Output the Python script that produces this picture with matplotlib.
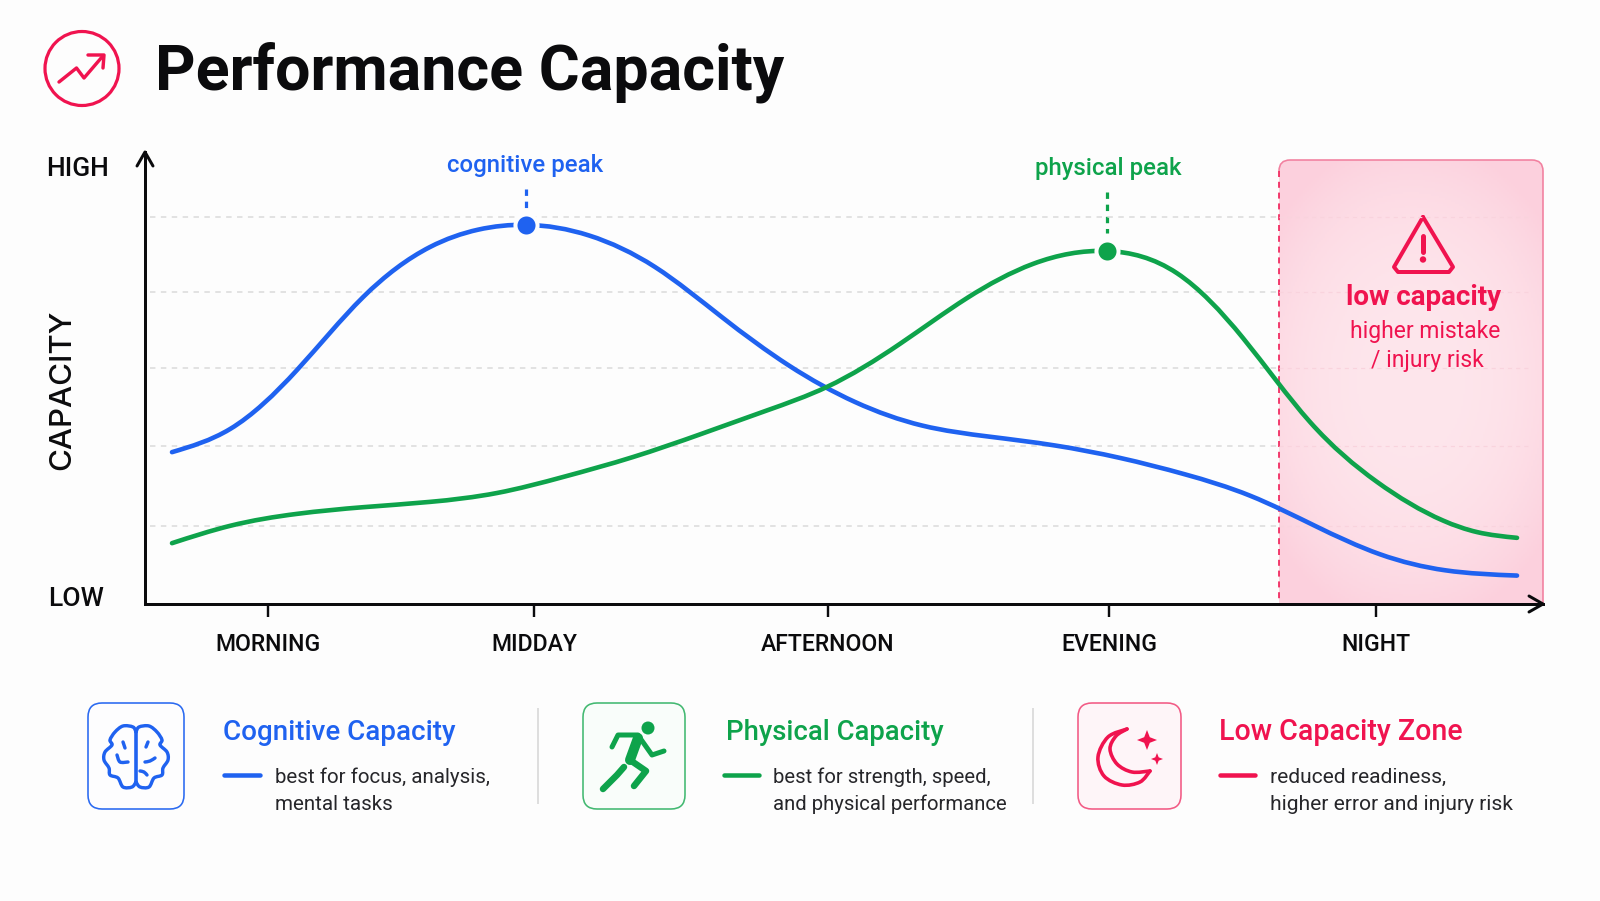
import numpy as np
import matplotlib
matplotlib.use('Agg')
import matplotlib.pyplot as plt
from matplotlib.path import Path
from matplotlib.patches import PathPatch, FancyBboxPatch, Circle, Polygon

# time position along the day, capacity in percent of the scale
time_cog = [27, 85, 152, 218, 285, 333, 381, 444, 510, 577, 644, 710, 777, 844, 910, 975, 1040, 1105, 1170, 1235, 1300, 1372]
cognitive = [34.2, 39.4, 52.7, 69.1, 80.4, 84.3, 85.4, 83.0, 75.9, 64.6, 53.7, 45.5, 40.2, 37.7, 35.7, 32.9, 29.2, 24.4, 17.6, 11.2, 7.6, 6.4]

time_phy = [27, 85, 152, 218, 285, 352, 418, 488, 555, 622, 682, 755, 822, 888, 962, 1032, 1098, 1165, 1232, 1298, 1332, 1372]
physical = [13.7, 17.6, 20.3, 21.8, 23.0, 25.0, 28.6, 33.1, 38.2, 43.6, 48.9, 58.6, 68.9, 76.6, 79.5, 74.5, 59.9, 41.0, 27.5, 18.8, 16.2, 14.9]

tick_pos = [123, 389, 683, 964, 1231]
tick_labels = ['MORNING', 'MIDDAY', 'AFTERNOON', 'EVENING', 'NIGHT']
grid_levels = [87.2, 70.3, 53.1, 35.6, 17.6]
low_start = 1134

BLUE = '#1f62f0'
GREEN = '#0ea34b'
RED = '#f0134f'
BG = '#fdfdfd'
INK = '#0b0b0d'
BODY = '#26262a'
FONT = 'Roboto'

plt.rcParams['font.family'] = [FONT, 'DejaVu Sans']


def smooth_path(xs, ys):
    # Catmull-Rom through the points, written as cubic beziers (icon outlines)
    pts = np.column_stack([xs, ys]).astype(float)
    n = len(pts)
    verts = [pts[0]]
    codes = [Path.MOVETO]
    for i in range(n - 1):
        p0, p1, p2, p3 = pts[max(i - 1, 0)], pts[i], pts[i + 1], pts[min(i + 2, n - 1)]
        verts += [p1 + (p2 - p0) / 6, p2 - (p3 - p1) / 6, p2]
        codes += [Path.CURVE4] * 3
    return Path(verts, codes)


def spline_path(xs, ys):
    # natural cubic spline through the series, one bezier per interval
    x = np.asarray(xs, float)
    y = np.asarray(ys, float)
    n = len(x)
    h = np.diff(x)
    A = np.zeros((n, n))
    b = np.zeros(n)
    A[0, 0] = A[-1, -1] = 1
    for i in range(1, n - 1):
        A[i, i - 1] = h[i - 1]
        A[i, i] = 2 * (h[i - 1] + h[i])
        A[i, i + 1] = h[i]
        b[i] = 6 * ((y[i + 1] - y[i]) / h[i] - (y[i] - y[i - 1]) / h[i - 1])
    m = np.linalg.solve(A, b)
    verts = [(x[0], y[0])]
    codes = [Path.MOVETO]
    for i in range(n - 1):
        s = (y[i + 1] - y[i]) / h[i]
        d0 = s - h[i] * (2 * m[i] + m[i + 1]) / 6
        d1 = s + h[i] * (m[i] + 2 * m[i + 1]) / 6
        verts += [(x[i] + h[i] / 3, y[i] + d0 * h[i] / 3), (x[i + 1] - h[i] / 3, y[i + 1] - d1 * h[i] / 3), (x[i + 1], y[i + 1])]
        codes += [Path.CURVE4] * 3
    return Path(verts, codes)


def px(v):
    return v * 0.72


fig = plt.figure(figsize=(16, 9.01), dpi=100, facecolor=BG)

# backdrop in figure pixels: title, icons, legend, low capacity zone
bg = fig.add_axes([0, 0, 1, 1], zorder=1)
bg.set_xlim(0, 1600)
bg.set_ylim(901, 0)
bg.axis('off')


def stroke(xs, ys, color, lw, smooth=False, ax=bg, **kw):
    path = smooth_path(xs, ys) if smooth else Path(np.column_stack([xs, ys]))
    p = PathPatch(path, fill=False, edgecolor=color, lw=px(lw), capstyle='round', joinstyle='round', **kw)
    ax.add_patch(p)
    return p


def label(x, y, s, color=INK, size=15, weight='normal', ha='left', va='baseline', **kw):
    return bg.text(x, y, s, color=color, fontsize=size, fontweight=weight, ha=ha, va=va, **kw)


# title and trend badge
label(155, 89.5, 'Performance Capacity', size=45.2, weight='bold')
bg.add_patch(Circle((82, 68.5), 37, fill=False, edgecolor=RED, lw=px(3.2)))
stroke([59, 76.5, 84, 102], [82, 68, 78, 57], RED, 3.4)
stroke([88, 104, 103], [55, 55, 68], RED, 3.4)

# low capacity zone with soft gradient
zx0, zx1, zy0, zy1 = 1279, 1543, 160, 604
r = 11
zone_path = Path([(zx0, zy1), (zx0, zy0 + r), (zx0, zy0), (zx0 + r, zy0), (zx1 - r, zy0), (zx1, zy0), (zx1, zy0 + r), (zx1, zy1), (zx0, zy1)],
                 [Path.MOVETO, Path.LINETO, Path.CURVE3, Path.CURVE3, Path.LINETO, Path.CURVE3, Path.CURVE3, Path.LINETO, Path.CLOSEPOLY])
gx, gy = np.meshgrid(np.linspace(-1, 1, 132), np.linspace(-1, 1, 222))
dist = np.clip(0.55 * gx ** 2 + 0.8 * gy ** 2, 0, 1)[..., None] ** 1.3
inner = np.array([254, 230, 236]) / 255
outer = np.array([252, 208, 221]) / 255
im = bg.imshow(inner + (outer - inner) * dist, extent=(zx0, zx1, zy1, zy0), aspect='auto', zorder=0.5)
zone = PathPatch(zone_path, facecolor='none', edgecolor='none')
bg.add_patch(zone)
im.set_clip_path(zone)
bg.set_xlim(0, 1600)
bg.set_ylim(901, 0)
top_edge = Path([(zx0, zy0 + r), (zx0, zy0), (zx0 + r, zy0), (zx1 - r, zy0), (zx1, zy0), (zx1, zy0 + r), (zx1, zy1)],
                [Path.MOVETO, Path.CURVE3, Path.CURVE3, Path.LINETO, Path.CURVE3, Path.CURVE3, Path.LINETO])
bg.add_patch(PathPatch(top_edge, fill=False, edgecolor='#f2809f', lw=px(1.6)))
bg.plot([zx0, zx0], [zy0 + r, zy1], color=RED, lw=px(2), dashes=(3, 2.4), alpha=0.8)

# warning sign
stroke([1423, 1394, 1398, 1449, 1453, 1423], [217, 267, 272, 272, 267, 217], RED, 4)
stroke([1423, 1423], [236, 252], RED, 5)
bg.add_patch(Circle((1423, 259.5), 3.2, color=RED, lw=0))

# axis captions
label(46, 176, 'HIGH', INK, 19, 'medium')
label(48, 606, 'LOW', INK, 19, 'medium')
label(62.5, 390, 'CAPACITY', INK, 22.5, 'medium', ha='center', va='center', rotation=90, family=['Inter', 'DejaVu Sans'])

# axis arrow heads
stroke([137, 145, 153], [166, 152, 166], INK, 3)
stroke([1529, 1543, 1529], [596, 604, 612], INK, 3)

# legend cards
card_y0, card_y1 = 703, 809
cards = [(88, 184, BLUE, '#fdfeff'), (583, 685, '#39b56a', '#f9fdfa'), (1078, 1181, '#f2527f', '#fff5f8')]
for x0, x1, edge, face in cards:
    bg.add_patch(FancyBboxPatch((x0, card_y0), x1 - x0, card_y1 - card_y0, boxstyle='round,pad=0,rounding_size=14',
                                facecolor=face, edgecolor=edge, lw=px(1.6), alpha=0.95))

legend_rows = [
    (223, 224, 260, 275, BLUE, 'Cognitive Capacity', 'best for focus, analysis,', 'mental tasks', 20, 14.8),
    (726, 724, 759, 773, GREEN, 'Physical Capacity', 'best for strength, speed,', 'and physical performance', 19.8, 14.6),
    (1219, 1220, 1255, 1270, RED, 'Low Capacity Zone', 'reduced readiness,', 'higher error and injury risk', 20.6, 15.1),
]
for tx, lx0, lx1, bx, col, head, l1, l2, head_size, body_size in legend_rows:
    label(tx, 740, head, col, head_size, 'medium')
    stroke([lx0, lx1], [775, 775], col, 4.5)
    label(bx, 783, l1, BODY, body_size)
    label(bx, 810, l2, BODY, body_size)
for dx in [538, 1033]:
    bg.plot([dx, dx], [709, 803], color='#dedede', lw=px(2))

# brain icon
cx, cy = 136, 756
lobe_x = np.array([0, -3, -13, -21, -26, -24, -31, -32, -27, -26, -18, -13, -4, 0])
lobe_y = np.array([-24, -29, -30, -24, -16, -11, -4, 4, 12, 19, 22, 31, 31, 26])
stroke(cx + lobe_x, cy + lobe_y, BLUE, 3.4, smooth=True)
stroke(cx - lobe_x, cy + lobe_y, BLUE, 3.4, smooth=True)
stroke([cx, cx], [cy - 24, cy + 27], BLUE, 3.6)
stroke([cx - 13, cx - 11], [cy - 14, cy - 8], BLUE, 3.4)
stroke([cx - 19, cx - 16, cx - 8], [cy - 1, cy + 6, cy + 6], BLUE, 3.4, smooth=True)
stroke([cx + 12, cx + 10], [cy - 14, cy - 9], BLUE, 3.4)
stroke([cx + 9, cx + 14, cx + 19], [cy + 6, cy + 5, cy + 2], BLUE, 3.4, smooth=True)
stroke([cx + 4, cx + 8, cx + 11], [cy + 15, cy + 16, cy + 19], BLUE, 3.4, smooth=True)

# runner icon
bg.add_patch(Circle((648, 728), 6.5, color=GREEN, lw=0))
stroke([638, 630], [738, 760], GREEN, 10)
stroke([638, 618, 612], [735, 735, 747], GREEN, 5)
stroke([640, 652, 664], [738, 755, 751], GREEN, 5)
stroke([630, 646, 634], [760, 771, 786], GREEN, 6.5)
stroke([624, 617, 603], [767, 775, 789], GREEN, 6.5)

# moon and stars icon
stroke([1127, 1108, 1098, 1104, 1122, 1140, 1150], [729, 737, 757, 776, 785, 782, 771], RED, 3.6, smooth=True)
stroke([1150, 1132, 1117, 1110, 1116, 1127], [771, 772, 764, 749, 736, 729], RED, 3.6, smooth=True)
for sx, sy, big in [(1147, 740, 10), (1157, 759, 6)]:
    t = big * 0.28
    bg.add_patch(Polygon([(sx, sy - big), (sx + t, sy - t), (sx + big, sy), (sx + t, sy + t),
                          (sx, sy + big), (sx - t, sy + t), (sx - big, sy), (sx - t, sy - t)], color=RED, lw=0))

# peak captions
label(525, 172, 'cognitive peak', BLUE, 17.3, 'medium', ha='center')
label(1108, 175, 'physical peak', GREEN, 17.3, 'medium', ha='center')

# chart axes, transparent so the zone shows through
ax = fig.add_axes([145 / 1600, 1 - 604 / 901, (1543 - 145) / 1600, (604 - 152) / 901], zorder=2)
ax.patch.set_alpha(0)
ax.set_xlim(0, 1398)
ax.set_ylim(0, 101.8)
for s in ['top', 'right']:
    ax.spines[s].set_visible(False)
for s in ['left', 'bottom']:
    ax.spines[s].set_linewidth(px(3))
    ax.spines[s].set_color(INK)
ax.set_yticks([])
ax.set_xticks(tick_pos)
ax.set_xticklabels(tick_labels, fontsize=16.6, fontweight='medium', color=INK)
ax.tick_params(axis='x', length=px(13), width=px(2.4), color=INK, pad=11.5)

ax.hlines(grid_levels, 5, low_start, color='#dcdcdc', lw=px(1.6), linestyles=(0, (3.4, 3.4)), zorder=1)
ax.hlines(grid_levels, low_start, 1385, color='#f9d3dd', lw=px(1.2), linestyles=(0, (3.4, 3.4)), zorder=1)

for xs, ys, col in [(time_cog, cognitive, BLUE), (time_phy, physical, GREEN)]:
    ax.add_patch(PathPatch(spline_path(xs, ys), fill=False, edgecolor=col, lw=px(4.6), capstyle='round', zorder=3))
    i = int(np.argmax(ys))
    ax.plot(xs[i], ys[i], 'o', ms=15.9, mfc=col, mec=BG, mew=2.9, zorder=4)

# dotted stems above the peaks
bg_stems = [(526, 189, 208, BLUE), (1107, 192, 233, GREEN)]
for x, y0, y1, col in bg_stems:
    bg.plot([x, x], [y0, y1], color=col, lw=px(3.2), dashes=(2, 1.8))

# zone captions sit above the grid lines
for y, s, size, weight, x in [(305, 'low capacity', 20, 'bold', 1424), (338, 'higher mistake', 16.5, 'normal', 1425),
                              (367, '/ injury risk', 16.5, 'normal', 1427)]:
    ax.text(x, y, s, color=RED, fontsize=size, fontweight=weight, ha='center', va='baseline', transform=bg.transData, zorder=5)

fig.savefig('out.png', dpi=100, facecolor=BG)
